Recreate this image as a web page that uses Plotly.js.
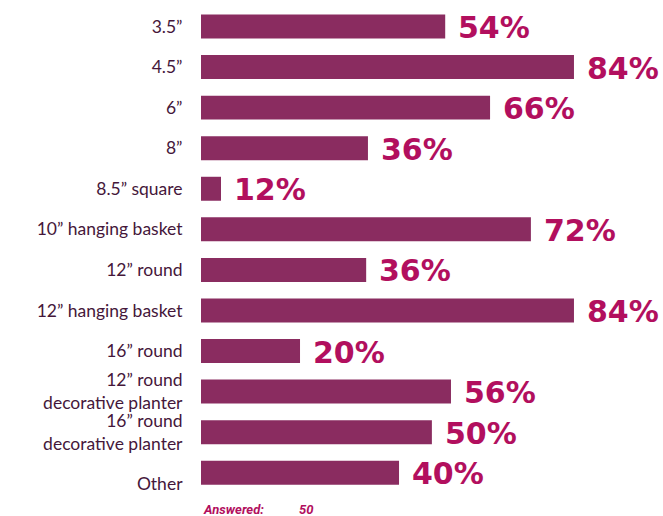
<!DOCTYPE html>
<html>
<head>
<meta charset="utf-8">
<script src="https://cdn.plot.ly/plotly-3.0.1.min.js"></script>
<style>html,body{margin:0;padding:0;background:#fff;}#chart{width:663px;height:516px;}</style>
</head>
<body>
<div id="chart"></div>
<script>
const categories = ["3.5”", "4.5”", "6”", "8”", "8.5” square", "10” hanging basket", "12” round", "12” hanging basket", "16” round", "12” round<br>decorative planter", "16” round<br>decorative planter", "\u00a0<br>Other"];
const percentLabels = [54, 84, 66, 36, 12, 72, 36, 84, 20, 56, 50, 40];
const barLengths = [55, 84, 65.1, 37.6, 4.5, 74.3, 37.2, 84, 22.3, 56.3, 52, 44.6];
const answered = 50;

const barColor = "#8A2C60";
const labelColor = "#B20F5E";

const trace = {
  type: "bar",
  orientation: "h",
  y: categories,
  x: barLengths,
  marker: {color: barColor},
  hoverinfo: "skip"
};

const annotations = categories.map((c, i) => ({
  x: barLengths[i], y: c, xref: "x", yref: "y",
  text: "<b>" + percentLabels[i] + "%</b>",
  showarrow: false, xanchor: "left", yanchor: "middle", xshift: 11, yshift: -1,
  font: {family: "'DejaVu Sans', sans-serif", size: 30, color: labelColor}
}));
annotations.push({
  xref: "paper", yref: "paper", x: 0, y: 0, yshift: -16, xanchor: "left", yanchor: "middle",
  text: "<b><i>Answered:</i></b>", showarrow: false,
  font: {family: "'Liberation Sans Narrow', Roboto, sans-serif", size: 13, color: labelColor}
});
annotations.push({
  xref: "paper", yref: "paper", x: 0, y: 0, xshift: 96, yshift: -16, xanchor: "left", yanchor: "middle",
  text: "<b><i>" + answered + "</i></b>", showarrow: false,
  font: {family: "'Liberation Sans Narrow', Roboto, sans-serif", size: 13, color: labelColor}
});

const layout = {
  width: 663, height: 516,
  margin: {l: 201, r: 0, t: 6, b: 23},
  paper_bgcolor: "#fff", plot_bgcolor: "#fff",
  showlegend: false,
  bargap: 0.409,
  xaxis: {range: [0, 104.05], visible: false, fixedrange: true},
  yaxis: {
    autorange: "reversed", type: "category",
    showgrid: false, zeroline: false, showline: false,
    ticks: "outside", ticklen: 14, tickcolor: "rgba(0,0,0,0)",
    tickfont: {family: "Lato, 'Open Sans', sans-serif", size: 17.5, color: "#45173A"},
    fixedrange: true
  },
  annotations: annotations
};

Plotly.newPlot("chart", [trace], layout, {displayModeBar: false, staticPlot: true});
</script>
</body>
</html>
